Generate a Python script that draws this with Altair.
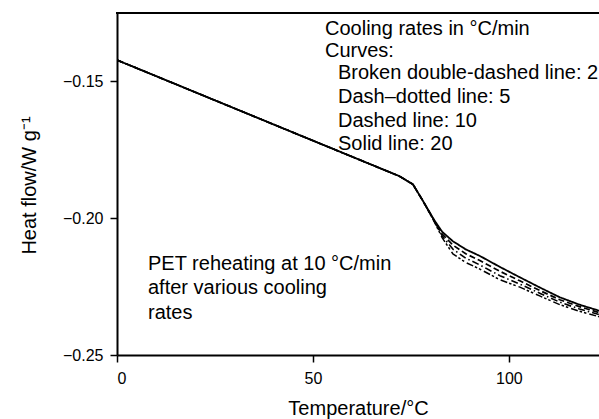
import altair as alt
import pandas as pd

# ---- data ----
temps = [0, 72, 75.5, 78, 81, 83, 85.7, 89, 92.6, 97.7, 102.8, 108, 113, 118, 123]
solid_20 = [-0.1422, -0.1846, -0.1876, -0.1935, -0.2008, -0.2050, -0.2084, -0.2114,
            -0.2138, -0.2178, -0.2216, -0.2254, -0.2289, -0.2316, -0.2338]
dashed_10 = [-0.1422, -0.1846, -0.1876, -0.1935, -0.2010, -0.2058, -0.2098, -0.2130,
             -0.2155, -0.2194, -0.2229, -0.2265, -0.2298, -0.2323, -0.2345]
dashdot_5 = [-0.1422, -0.1846, -0.1876, -0.1935, -0.2012, -0.2065, -0.2113, -0.2146,
             -0.2171, -0.2210, -0.2241, -0.2275, -0.2307, -0.2332, -0.2352]
double_2 = [-0.1422, -0.1846, -0.1876, -0.1935, -0.2014, -0.2072, -0.2130, -0.2162,
            -0.2186, -0.2225, -0.2252, -0.2285, -0.2316, -0.2340, -0.2360]

series_names = ["20", "10", "5", "2"]
series_values = [solid_20, dashed_10, dashdot_5, double_2]

x_ticks = [0, 50, 100]
y_ticks = [-0.25, -0.20, -0.15]

legend_head = ["Cooling rates in °C/min", "Curves:"]
legend_items = ["Broken double-dashed line: 2", "Dash\u2013dotted line: 5",
                "Dashed line: 10", "Solid line: 20"]
note_lines = ["PET reheating at 10 °C/min", "after various cooling", "rates"]

rows = []
for name, vals in zip(series_names, series_values):
    for t, v in zip(temps, vals):
        rows.append({"T": t, "H": v, "rate": name})
df = pd.DataFrame(rows)

W, H = 482, 342
FONT = "Liberation Sans"

lines = alt.Chart(df).mark_line(color="black", clip=True, strokeJoin="round").encode(
    x=alt.X("T:Q", scale=alt.Scale(domain=[0, 123], nice=False, zero=False),
            axis=alt.Axis(values=x_ticks, title="Temperature/°C", format="d",
                          titleX=241, titleY=59, titleBaseline="alphabetic")),
    y=alt.Y("H:Q", scale=alt.Scale(domain=[-0.25, -0.125], nice=False, zero=False),
            axis=alt.Axis(values=y_ticks, title="Heat flow/W g\u207b\u00b9", format=".2f",
                          titleX=-82, titleY=172, titleAngle=270,
                          titleAlign="center", titleBaseline="alphabetic",
                          labelPadding=7)),
    strokeDash=alt.StrokeDash("rate:N", legend=None,
                              scale=alt.Scale(domain=series_names,
                                              range=[[1, 0], [6, 3], [7, 3, 1.5, 3],
                                                     [7, 2, 2.5, 2, 2.5, 3]])),
    strokeWidth=alt.StrokeWidth("rate:N", legend=None,
                                scale=alt.Scale(domain=series_names,
                                                range=[1.8, 1.5, 1.5, 1.5])),
    detail="rate:N",
)

top_rule = alt.Chart(pd.DataFrame({"a": [0]})).mark_rule(color="black", strokeWidth=2).encode(
    x=alt.value(-1), x2=alt.value(W), y=alt.value(0)
)

layers = [lines, top_rule]

def text_layer(txt, x, y):
    return alt.Chart(pd.DataFrame({"t": [txt]})).mark_text(
        align="left", baseline="alphabetic", font=FONT, fontSize=20, color="black"
    ).encode(text="t:N", x=alt.value(x), y=alt.value(y))

legend_baselines = [21.5, 43.5, 66, 90, 113.5, 137]
for i, txt in enumerate(legend_head):
    layers.append(text_layer(txt, 208, legend_baselines[i]))
for i, txt in enumerate(legend_items):
    layers.append(text_layer(txt, 221, legend_baselines[i + 2]))

note_baselines = [257, 281, 306]
for i, txt in enumerate(note_lines):
    layers.append(text_layer(txt, 31, note_baselines[i]))

chart = alt.layer(*layers).properties(
    width=W, height=H,
    autosize=alt.AutoSizeParams(type="none"),
    padding={"left": 117, "top": 13, "right": 0, "bottom": 64},
).configure_view(stroke=None).configure_axis(
    grid=False,
    domainColor="black", domainWidth=2,
    tickColor="black", tickWidth=1.5, tickSize=7,
    labelFont=FONT, labelFontSize=16, labelColor="black",
    titleFont=FONT, titleFontSize=20, titleColor="black", titleFontWeight="normal",
).configure_axisX(labelPadding=8)

chart.save("out.html", embed_options={"renderer": "svg", "actions": False})
